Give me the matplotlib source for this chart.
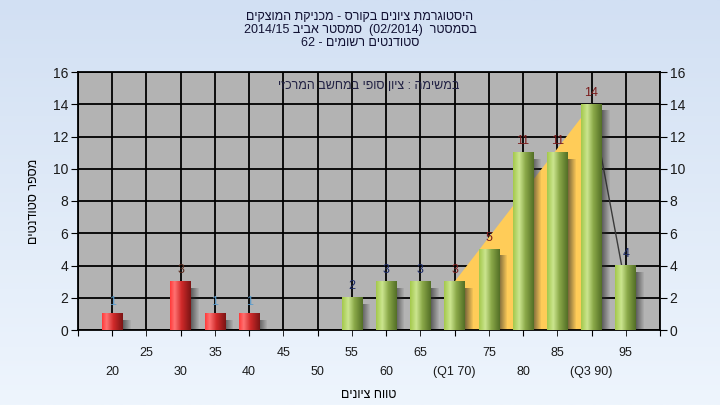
import numpy as np
import matplotlib
matplotlib.use("Agg")
import matplotlib.pyplot as plt
from matplotlib.colors import LinearSegmentedColormap
from matplotlib.patches import Rectangle, Polygon

plt.rcParams["font.family"] = ["Liberation Sans", "DejaVu Sans"]

# data
grades = [20, 25, 30, 35, 40, 45, 50, 55, 60, 65, 70, 75, 80, 85, 90, 95]
counts = [1, 0, 3, 1, 1, 0, 0, 2, 3, 3, 3, 5, 11, 11, 14, 4]
pass_grade = 55
q1, q3 = 70, 90
row1_ticks = [25, 35, 45, 55, 65, 75, 85, 95]
row2_ticks = [20, 30, 40, 50, 60, 70, 80, 90]
row2_labels = ["20", "30", "40", "50", "60", "(Q1 70)", "80", "(Q3 90)"]
title_lines = ["היסטוגרמת ציונים בקורס - מכניקת המוצקים",
               "בסמסטר  (02/2014)  סמסטר אביב 2014/15",
               "סטודנטים רשומים - 62"]
inner_title = "במשימה : ציון סופי במחשב המרכזי"
xlabel = "טווח ציונים"
ylabel = "מספר סטודנטים"


def visual(s):
    # matplotlib has no bidi: flip token order and hebrew words by hand
    out = []
    for t in reversed(s.split(" ")):
        if any("\u0590" <= c <= "\u05ff" for c in t):
            out.append(t[::-1])
        else:
            out.append(t)
    return " ".join(out)


label_colors = {1: "#5b9ccc"}
red_cmap = LinearSegmentedColormap.from_list(
    "r", [(0, "#ff3a3a"), (0.22, "#ff7272"), (0.55, "#d02a2a"), (1, "#7c1414")])
green_cmap = LinearSegmentedColormap.from_list(
    "g", [(0, "#a4c94c"), (0.3, "#cbe58f"), (0.6, "#8aa848"), (1, "#536f26")])

fig = plt.figure(figsize=(7.2, 4.05), dpi=100)
bg = fig.add_axes([0, 0, 1, 1], zorder=-10)
bg.imshow(np.linspace(0, 1, 256).reshape(-1, 1), aspect="auto", extent=(0, 1, 0, 1),
          cmap=LinearSegmentedColormap.from_list("bg", ["#d2e0f3", "#eef5fd"]))
bg.axis("off")

ax = fig.add_axes([78 / 720, 75 / 405, 582 / 720, 258 / 405])
ax.set_facecolor("#b3b3b3")
ax.set_xlim(15, 100)
ax.set_ylim(0, 16)

# quartile shading + tail line
ax.add_patch(Polygon([(q1, 0), (q1, counts[grades.index(q1)]),
                      (q3, counts[grades.index(q3)]), (q3, 0)],
                     closed=True, facecolor="#ffcc58", edgecolor="none", zorder=2))
ax.plot([q3, 94.4], [counts[grades.index(q3)], counts[grades.index(95)]],
        color="#3a3a3a", lw=1.0, zorder=2)

w = 3.0
px_x = 5 / 34.2
px_y = 16 / 258
grad = np.linspace(0, 1, 64).reshape(1, -1)
for g, c in zip(grades, counts):
    if c == 0:
        continue
    cmap = red_cmap if g < pass_grade else green_cmap
    # soft shadow right of the bar
    for i in range(8):
        ax.add_patch(Rectangle((g + w / 2 + i * px_x, 0), px_x, c - 6 * px_y,
                               facecolor="#2a2a2a", edgecolor="none",
                               alpha=0.6 * (1 - i / 8), zorder=2.5))
    ax.imshow(grad, cmap=cmap, aspect="auto", zorder=3,
              extent=(g - w / 2, g + w / 2, 0, c))
    if g < pass_grade:
        col = label_colors.get(c, "#5a2a1c")
    elif q1 <= g <= q3:
        col = "#7a1c1c"
    else:
        col = "#1c2a66"
    ax.annotate(str(c), (g, c), xytext=(0, 4), textcoords="offset points",
                ha="center", va="bottom", fontsize=9, color=col, zorder=4)

ax.set_xlim(15, 100)
ax.set_ylim(0, 16)

ax.set_xticks([15] + row2_ticks + [100])
ax.set_xticklabels([""] + row2_labels + [""])
ax.set_xticks(row1_ticks, minor=True)
ax.set_xticklabels([str(t) for t in row1_ticks], minor=True)
ax.set_yticks(range(0, 17, 2))
ax.tick_params(axis="x", which="major", direction="out", length=4, pad=22,
               labelsize=9, color="black")
ax.tick_params(axis="x", which="minor", direction="out", length=4, pad=8,
               labelsize=9, color="black")
ax.tick_params(axis="y", direction="out", length=5, pad=2, labelsize=10,
               right=True, labelright=True, color="black")
for lab in ax.get_yticklabels() + ax.get_xticklabels() + ax.get_xticklabels(minor=True):
    lab.set_color("#1a1a1a")

ax.grid(True, which="both", color="black", lw=1.3)
ax.set_axisbelow(True)
for s in ax.spines.values():
    s.set_color("black")
    s.set_linewidth(1.3)

ax.set_xlabel(visual(xlabel), fontsize=9, labelpad=8)
ax.set_ylabel(visual(ylabel), fontsize=9, labelpad=9)
ax.text(0.5, 0.945, visual(inner_title), transform=ax.transAxes, ha="center",
        va="center", fontsize=9, color="#222244")

for i, line in enumerate(title_lines):
    fig.text(0.5, 1 - (17 + 13 * i) / 405, visual(line), ha="center", va="center",
             fontsize=9, color="#111133")

fig.savefig("out.png", dpi=100)
